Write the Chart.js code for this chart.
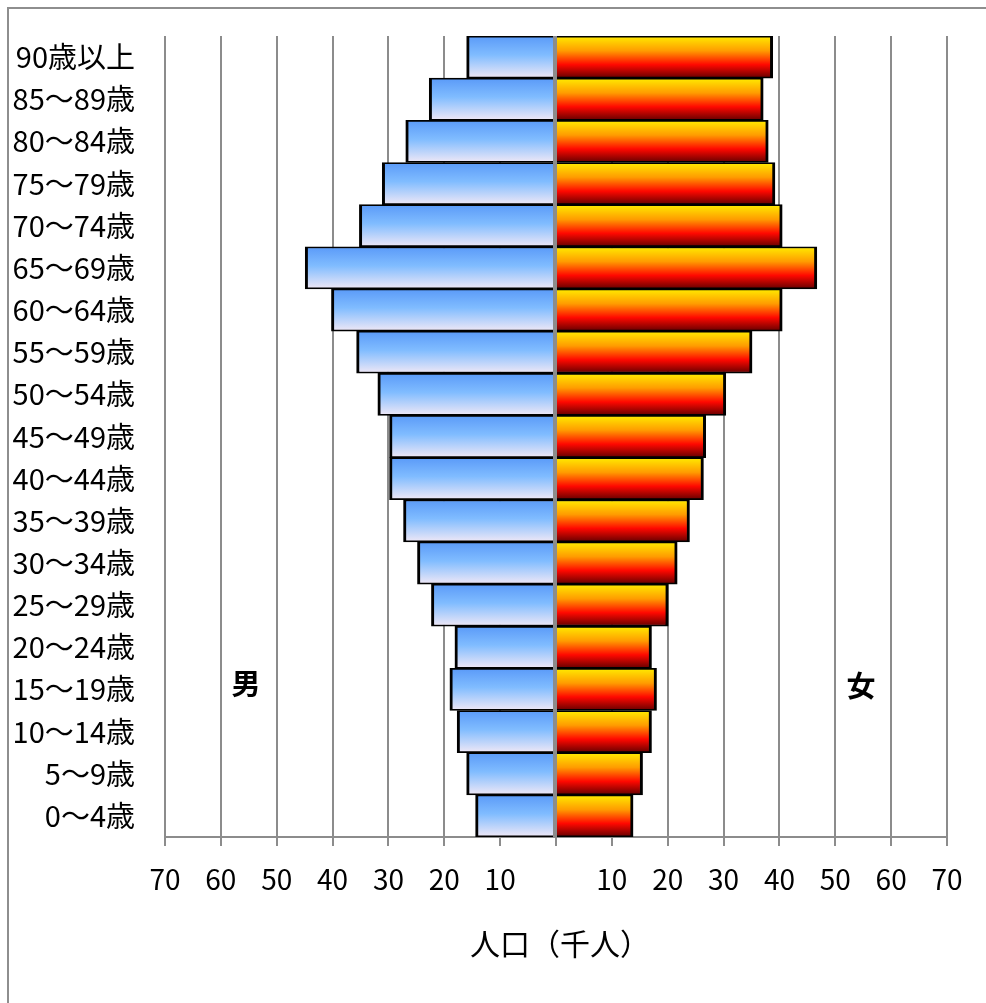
<!DOCTYPE html>
<html lang="ja">
<head>
<meta charset="utf-8">
<title>人口ピラミッド</title>
<script src="https://cdn.jsdelivr.net/npm/chart.js@4.4.1/dist/chart.umd.min.js"></script>
<style>
  html, body { margin: 0; padding: 0; background: #fff; }
  #wrap { width: 986px; height: 1003px; position: relative; }
</style>
</head>
<body>
<div id="wrap"><canvas id="pyramid" width="986" height="1003"></canvas></div>
<script>
// Age groups, oldest at the top
const ageGroups = [
  '90歳以上', '85～89歳', '80～84歳', '75～79歳', '70～74歳', '65～69歳',
  '60～64歳', '55～59歳', '50～54歳', '45～49歳', '40～44歳', '35～39歳',
  '30～34歳', '25～29歳', '20～24歳', '15～19歳', '10～14歳', '5～9歳', '0～4歳'
];

// Population in thousands
const maleValues = [
  16.0, 22.7, 26.9, 31.1, 35.2, 44.9, 40.2, 35.7, 31.9, 29.8,
  29.8, 27.3, 24.8, 22.3, 18.1, 19.0, 17.7, 16.0, 14.4
];
const femaleValues = [
  38.8, 37.1, 38.0, 39.2, 40.5, 46.7, 40.5, 35.1, 30.4, 26.8,
  26.4, 23.9, 21.7, 20.1, 17.1, 18.0, 17.1, 15.5, 13.8
];

// Axis range and labels
const axisMax = 70;
const axisStep = 10;
const axisTitle = '人口（千人）';
const maleLabel = '男';
const femaleLabel = '女';

const FONT = '"Noto Sans CJK JP", "Noto Sans", sans-serif';
const GRID = '#8c8c8c';

// Vertical gradient spanning one category band
function bandGradient(context, stops) {
  const chart = context.chart;
  const area = chart.chartArea;
  const yScale = chart.scales.y;
  if (!area || !yScale) return stops[0][1];
  const center = yScale.getPixelForValue(context.dataIndex);
  const half = (area.bottom - area.top) / ageGroups.length / 2;
  const g = chart.ctx.createLinearGradient(0, center - half, 0, center + half);
  stops.forEach(([o, c]) => g.addColorStop(o, c));
  return g;
}

const maleStops = [[0, '#5a9af8'], [0.45, '#80bcff'], [1, '#f0e8f6']];
const femaleStops = [[0, '#ffec00'], [0.35, '#ff9c00'], [0.68, '#ff0800'], [1, '#640000']];

const barBorder = { top: 1.75, bottom: 1.75, left: 3, right: 3 };

// Frame, centre axis and side labels
const decorations = {
  id: 'decorations',
  beforeDraw(chart) {
    const c = chart.ctx;
    c.save();
    c.fillStyle = '#fff';
    c.fillRect(0, 0, chart.width, chart.height);
    c.strokeStyle = '#8e8e8e';
    c.lineWidth = 2;
    c.beginPath();
    c.moveTo(8, chart.height);
    c.lineTo(8, 8);
    c.lineTo(chart.width, 8);
    c.stroke();
    c.restore();
  },
  afterDatasetsDraw(chart) {
    const c = chart.ctx;
    const area = chart.chartArea;
    const x0 = chart.scales.x.getPixelForValue(0);
    c.save();
    c.strokeStyle = GRID;
    c.lineWidth = 3;
    c.beginPath();
    c.moveTo(x0 - 1.5, area.top);
    c.lineTo(x0 - 1.5, area.bottom);
    c.stroke();
    c.restore();
  },
  afterDraw(chart) {
    const c = chart.ctx;
    const area = chart.chartArea;
    const xs = chart.scales.x;
    c.save();
    c.fillStyle = '#000';
    c.textAlign = 'center';
    c.textBaseline = 'middle';
    c.font = 'bold 29px ' + FONT;
    c.fillText(maleLabel, xs.getPixelForValue(-55.5), 684);
    c.fillText(femaleLabel, xs.getPixelForValue(54.6), 686);
    c.font = '30px ' + FONT;
    c.fillText(axisTitle, (area.left + area.right) / 2 + 4, 944);
    c.restore();
  }
};

function build() {
  new Chart(document.getElementById('pyramid'), {
    type: 'bar',
    data: {
      labels: ageGroups,
      datasets: [
        {
          label: maleLabel,
          data: maleValues.map(v => -v),
          backgroundColor: ctx => bandGradient(ctx, maleStops),
          borderColor: '#000',
          borderWidth: barBorder,
          borderSkipped: 'start',
          barPercentage: 1,
          categoryPercentage: 1
        },
        {
          label: femaleLabel,
          data: femaleValues,
          backgroundColor: ctx => bandGradient(ctx, femaleStops),
          borderColor: '#000',
          borderWidth: barBorder,
          borderSkipped: 'start',
          barPercentage: 1,
          categoryPercentage: 1
        }
      ]
    },
    options: {
      indexAxis: 'y',
      responsive: false,
      animation: false,
      devicePixelRatio: 1,
      layout: { padding: { top: 36, right: 39, left: 0, bottom: 0 } },
      plugins: {
        legend: { display: false },
        tooltip: { enabled: false }
      },
      scales: {
        x: {
          stacked: true,
          min: -axisMax,
          max: axisMax,
          afterFit(scale) {
            scale.height = 166;
            scale.paddingLeft = 0;
            scale.paddingRight = 0;
          },
          ticks: {
            stepSize: axisStep,
            color: '#000',
            padding: 17,
            maxRotation: 0,
            autoSkip: false,
            font: { family: FONT, size: 28 },
            callback: v => (v === 0 ? '' : Math.abs(v))
          },
          grid: {
            color: GRID,
            lineWidth: 2,
            tickLength: 9,
            drawOnChartArea: true
          },
          border: { color: GRID, width: 2 }
        },
        y: {
          stacked: true,
          afterFit(scale) {
            scale.width = 165;
            scale.paddingTop = 0;
            scale.paddingBottom = 0;
          },
          ticks: {
            color: '#000',
            padding: 30,
            autoSkip: false,
            font: { family: FONT, size: 29 }
          },
          grid: { display: false, drawTicks: false },
          border: { display: false }
        }
      }
    },
    plugins: [decorations]
  });
}

if (document.fonts && document.fonts.load) {
  Promise.all([
    document.fonts.load('29px "Noto Sans CJK JP"'),
    document.fonts.load('bold 29px "Noto Sans CJK JP"')
  ]).then(build, build);
} else {
  build();
}
</script>
</body>
</html>
